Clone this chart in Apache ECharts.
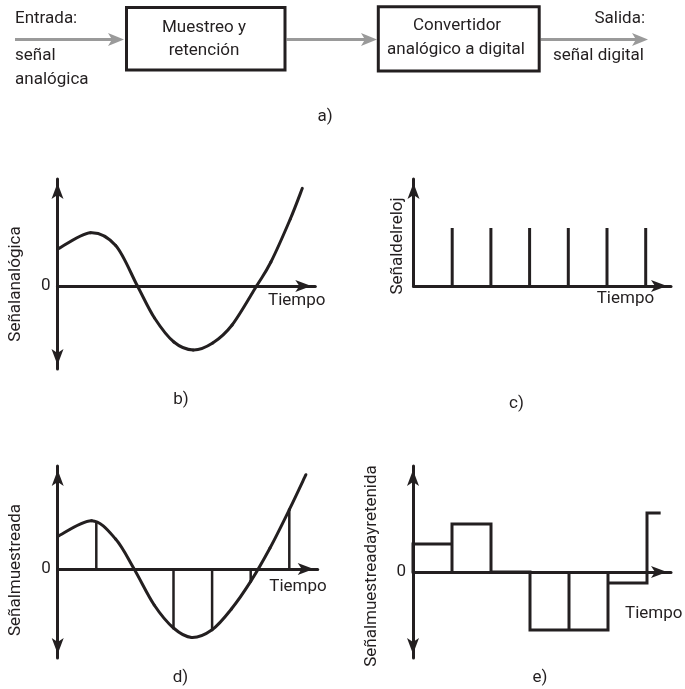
<!DOCTYPE html>
<html><head><meta charset="utf-8">
<script src="https://cdn.jsdelivr.net/npm/echarts@6/dist/echarts.min.js"></script>
<style>html,body{margin:0;padding:0;background:#fff}#c{width:685px;height:689px}</style>
</head><body><div id="c"></div>
<script>
// b) analog signal (time in clock periods, value in arbitrary units)
const analogT = [0, 0.85, 1.5, 2.06, 2.5, 3, 3.5, 4, 4.5, 5.13, 5.5, 6, 6.31];
const analogV = [36.7, 53.3, 40.5, 0, -32, -56, -64, -57, -39, 0, 24, 67, 97.7];
// c) clock pulses
const clockT = [1, 2, 3, 4, 5, 6];
const clockV = [58, 58, 58, 58, 58, 58];
// d) sampled signal
const sampledCurveT = [0, 0.88, 1.5, 1.98, 2.5, 3, 3.47, 4, 4.5, 5, 5.5, 6, 6.43];
const sampledCurveV = [32.6, 48.3, 30, 0, -36, -59, -68.4, -60.7, -40, -12.4, 21, 59.3, 94.3];
const sampleT = [1, 2, 3, 4, 5, 6];
const sampleV = [47, 0, -59, -60.7, -12.4, 59.3];
// e) sample and hold
const holdT = [0, 1, 2, 3, 4, 5, 6];
const holdV = [28, 48, 0, -58, -58, -11, 59];
const holdEnd = 6.35;
// texts
const xName = 'Tiempo';
const yNames = ['Señalanalógica', 'Señaldelreloj', 'Señalmuestreada', 'Señalmuestreadayretenida'];
const captions = ['a)', 'b)', 'c)', 'd)', 'e)'];
const zeroTicks = [0];

const INK = '#231f20';
const FONT = 'Roboto';
const zip = (a, b) => a.map((v, i) => [v, b[i]]);

const holdPath = [];
for (let i = 0; i < holdT.length; i++) {
  const t0 = holdT[i];
  const t1 = i < holdT.length - 1 ? holdT[i + 1] : holdEnd;
  holdPath.push([t0, 0], [t0, holdV[i]], [t1, holdV[i]]);
  if (i < holdT.length - 1) holdPath.push([t1, 0]);
}

// smooth curve through the data points (Catmull-Rom), positioned by the axis scales
function curveSeries(gi, T, V) {
  const n = T.length;
  return {
    type: 'custom', xAxisIndex: gi, yAxisIndex: gi, clip: false,
    data: zip(T, V), encode: { x: 0, y: 1 },
    renderItem: function (params, api) {
      const i = params.dataIndex;
      if (i >= n - 1) return null;
      const P = k => { k = Math.max(0, Math.min(n - 1, k)); return api.coord([T[k], V[k]]); };
      const p0 = P(i - 1), p1 = P(i), p2 = P(i + 1), p3 = P(i + 2);
      return {
        type: 'bezierCurve',
        shape: {
          x1: p1[0], y1: p1[1], x2: p2[0], y2: p2[1],
          cpx1: p1[0] + (p2[0] - p0[0]) / 6, cpy1: p1[1] + (p2[1] - p0[1]) / 6,
          cpx2: p2[0] - (p3[0] - p1[0]) / 6, cpy2: p2[1] - (p3[1] - p1[1]) / 6
        },
        style: { stroke: INK, lineWidth: 3, fill: null, lineCap: 'round' }
      };
    }
  };
}

const arrowSym = (both) => ({
  show: true,
  symbol: both ? ['arrow', 'arrow'] : ['none', 'arrow'],
  symbolSize: [9, 16],
  symbolOffset: [4, -4],
  lineStyle: { color: INK, width: 3 }
});

function xAx(gi, max) {
  return {
    type: 'value', gridIndex: gi, min: 0, max: max,
    axisLine: Object.assign(arrowSym(false), { onZero: true }),
    axisTick: { show: false }, axisLabel: { show: false }, splitLine: { show: false }
  };
}
function yAx(gi, min, max, both, showZero) {
  return {
    type: 'value', gridIndex: gi, min: min, max: max,
    axisLine: arrowSym(both),
    axisTick: { show: false },
    axisLabel: {
      show: showZero, customValues: zeroTicks, margin: 7,
      formatter: v => (v === 0 ? '0' : ''),
      fontFamily: FONT, fontSize: 17, color: INK
    },
    splitLine: { show: false }
  };
}

const txt = (text, x, y, align, extra) => Object.assign({
  type: 'text', x: x, y: y,
  style: { text: text, font: '17px ' + FONT, fill: INK, align: align || 'left', verticalAlign: 'middle' }
}, extra || {});

const grayArrow = (x1, tip, y) => ([
  { type: 'line', shape: { x1: x1, y1: y, x2: tip - 10, y2: y }, style: { stroke: '#9a9a9a', lineWidth: 3 } },
  { type: 'polygon', shape: { points: [[tip, y], [tip - 16, y - 6.5], [tip - 12, y], [tip - 16, y + 6.5]] }, style: { fill: '#9a9a9a' } }
]);

const graphic = [].concat(
  grayArrow(15, 124, 39.5),
  grayArrow(286.7, 377, 39.5),
  grayArrow(540.7, 648, 39.5),
  [
    { type: 'rect', shape: { x: 126.5, y: 7.5, width: 158.5, height: 62.5 }, style: { stroke: INK, lineWidth: 3, fill: 'none' } },
    { type: 'rect', shape: { x: 378.3, y: 6.7, width: 160.9, height: 64.3 }, style: { stroke: INK, lineWidth: 3, fill: 'none' } },
    txt('Entrada:', 15, 19),
    txt('señal', 15, 55.7),
    txt('analógica', 15, 80),
    txt('Muestreo y', 204, 27.3, 'center'),
    txt('retención', 204, 50.7, 'center'),
    txt('Convertidor', 457, 25.7, 'center'),
    txt('analógico a digital', 456, 50, 'center'),
    txt('Salida:', 645, 19, 'right'),
    txt('señal digital', 644, 55.7, 'right'),
    txt(captions[0], 325, 117, 'center'),
    txt(captions[1], 181, 400, 'center'),
    txt(captions[2], 516.5, 404, 'center'),
    txt(captions[3], 180.5, 677.5, 'center'),
    txt(captions[4], 540, 677.5, 'center'),
    txt(xName, 268, 300.5),
    txt(xName, 596.7, 299),
    txt(xName, 269.3, 586.7),
    txt(xName, 625, 614),
    txt(yNames[0], 15.5, 284, 'center', { rotation: Math.PI / 2 }),
    txt(yNames[1], 397.5, 246, 'center', { rotation: Math.PI / 2 }),
    txt(yNames[2], 15.5, 570, 'center', { rotation: Math.PI / 2 }),
    txt(yNames[3], 372, 566, 'center', { rotation: Math.PI / 2 })
  ]
);

const option = {
  animation: false,
  backgroundColor: '#fff',
  grid: [
    { left: 57.5, top: 179, width: 257.8, height: 190 },
    { left: 413.5, top: 179, width: 257.5, height: 107 },
    { left: 57.7, top: 466, width: 260, height: 192 },
    { left: 413, top: 466, width: 258, height: 192 }
  ],
  xAxis: [xAx(0, 257.8 / 38.8), xAx(1, 257.5 / 38.7), xAx(2, 260 / 38.6), xAx(3, 258 / 39)],
  yAxis: [yAx(0, -83, 107, true, true), yAx(1, 0, 107, false, false), yAx(2, -89, 103, true, true), yAx(3, -86, 106, true, true)],
  series: [
    curveSeries(0, analogT, analogV),
    { type: 'bar', xAxisIndex: 1, yAxisIndex: 1, data: zip(clockT, clockV), barWidth: 3, itemStyle: { color: INK } },
    curveSeries(2, sampledCurveT, sampledCurveV),
    { type: 'bar', xAxisIndex: 2, yAxisIndex: 2, data: zip(sampleT, sampleV), barWidth: 2.5, itemStyle: { color: INK } },
    { type: 'line', xAxisIndex: 3, yAxisIndex: 3, data: holdPath, showSymbol: false, lineStyle: { color: INK, width: 3, join: 'miter' } }
  ],
  graphic: graphic
};
const chart = echarts.init(document.getElementById('c'), null, { renderer: 'canvas' });
chart.setOption(option);
</script>
</body></html>
